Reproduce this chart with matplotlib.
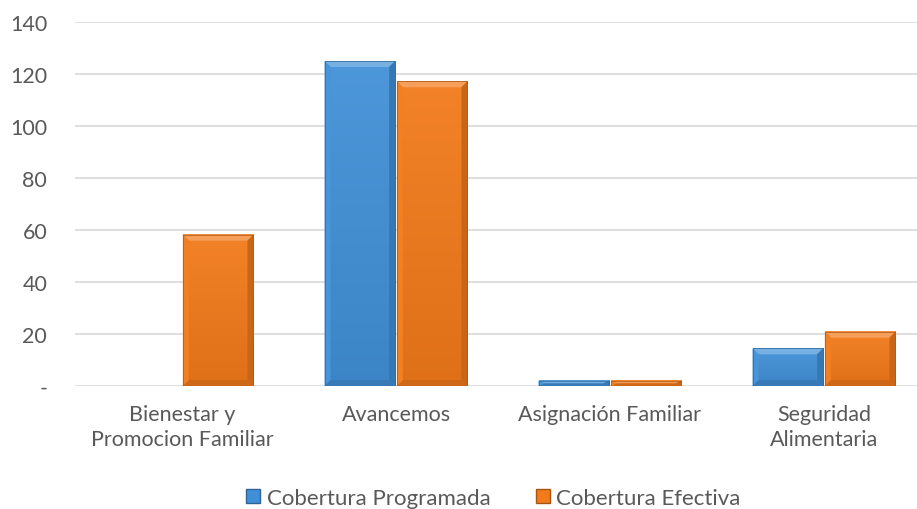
import numpy as np
import matplotlib
matplotlib.use("Agg")
from matplotlib import pyplot as plt
from matplotlib.patches import Polygon
from matplotlib.lines import Line2D
from matplotlib.colors import LinearSegmentedColormap

plt.rcParams['font.family'] = ['Lato', 'DejaVu Sans']

categories = ['Bienestar y\nPromocion Familiar', 'Avancemos',
              'Asignación Familiar', 'Seguridad\nAlimentaria']
programada = [0, 125, 2, 14.5]
efectiva = [58.2, 117.2, 2, 20.9]
yticks = [0, 20, 40, 60, 80, 100, 120, 140]
ytick_labels = ['-', '20', '40', '60', '80', '100', '120', '140']
series_names = ['Cobertura Programada', 'Cobertura Efectiva']

blue = '#4190D7'
orange = '#F27A1A'
text_col = '#595959'
fs = 15.5


def lighten(c, f):
    c = np.array(matplotlib.colors.to_rgb(c))
    return tuple(c + (1 - c) * f)


def darken(c, f):
    c = np.array(matplotlib.colors.to_rgb(c))
    return tuple(c * (1 - f))


fig = plt.figure(figsize=(9.17, 5.10), dpi=100)
ax = fig.add_axes([75/917, 1-387/510, 856/917, 364/510])

x = np.arange(len(categories))
w = 0.33
bars1 = ax.bar(x - w/2 - 0.004, programada, w, color=blue, edgecolor='#34699A', linewidth=0.5, zorder=3)
bars2 = ax.bar(x + w/2 + 0.004, efectiva, w, color=orange, edgecolor='#A8530F', linewidth=0.5, zorder=3)

# soft bevel + vertical gradient on each bar (sizes in pixels -> data units)
px_x = 4.0 / 856
px_y = 140.0 / 364
bev = 6
grad = np.linspace(1, 0, 100).reshape(-1, 1)
for bars, col in [(bars1, blue), (bars2, orange)]:
    cmap = LinearSegmentedColormap.from_list('g', [darken(col, 0.08), lighten(col, 0.06)])
    for r in bars:
        x0, y0, bw, bh = r.get_x(), r.get_y(), r.get_width(), r.get_height()
        if bh <= 0:
            continue
        x1, y1 = x0 + bw, y0 + bh
        ax.imshow(grad, cmap=cmap, extent=(x0, x1, y0, y1), aspect='auto',
                  origin='upper', zorder=3.5, interpolation='bilinear')
        bx = min(bev * px_x, bw / 2)
        by = min(bev * px_y, bh / 2)
        top = [(x0, y1), (x1, y1), (x1 - bx, y1 - by), (x0 + bx, y1 - by)]
        bot = [(x0, y0), (x1, y0), (x1 - bx, y0 + by), (x0 + bx, y0 + by)]
        left = [(x0, y0), (x0, y1), (x0 + bx, y1 - by), (x0 + bx, y0 + by)]
        right = [(x1, y0), (x1, y1), (x1 - bx, y1 - by), (x1 - bx, y0 + by)]
        ax.add_patch(Polygon(top, closed=True, color=lighten(col, 0.28), lw=0, zorder=4))
        ax.add_patch(Polygon(bot, closed=True, color=darken(col, 0.15), lw=0, zorder=4))
        ax.add_patch(Polygon(left, closed=True, color=lighten(col, 0.04), lw=0, zorder=4))
        ax.add_patch(Polygon(right, closed=True, color=darken(col, 0.17), lw=0, zorder=4))
        ax.add_patch(Polygon([(x0, y0), (x1, y0), (x1, y1), (x0, y1)], closed=True,
                             fill=False, edgecolor=darken(col, 0.3), lw=0.5, zorder=4.5))

ax.set_xlim(-0.5, 3.5)
ax.set_ylim(0, 140)

for s in ax.spines.values():
    s.set_visible(False)
ax.set_yticks(yticks)
ax.set_yticklabels(ytick_labels)
ax.yaxis.grid(True, color='#D9D9D9', linewidth=1.2, zorder=0)
ax.set_axisbelow(True)
ax.tick_params(axis='y', length=0, pad=20, labelsize=fs, labelcolor=text_col)
ax.set_xticks(x)
ax.set_xticklabels(categories, linespacing=1.3)
ax.tick_params(axis='x', length=0, pad=13, labelsize=fs, labelcolor=text_col)

handles = [Line2D([], [], marker='s', linestyle='none', markersize=10,
                  markerfacecolor=c, markeredgecolor=darken(c, 0.3))
           for c in [blue, orange]]
fig.legend(handles, series_names, loc='center', bbox_to_anchor=(492/917, 1 - 499/510),
           ncol=2, frameon=False, fontsize=16, labelcolor=text_col,
           handletextpad=0.15, columnspacing=1.9, handlelength=0.9)

fig.savefig('out.png', dpi=100)
